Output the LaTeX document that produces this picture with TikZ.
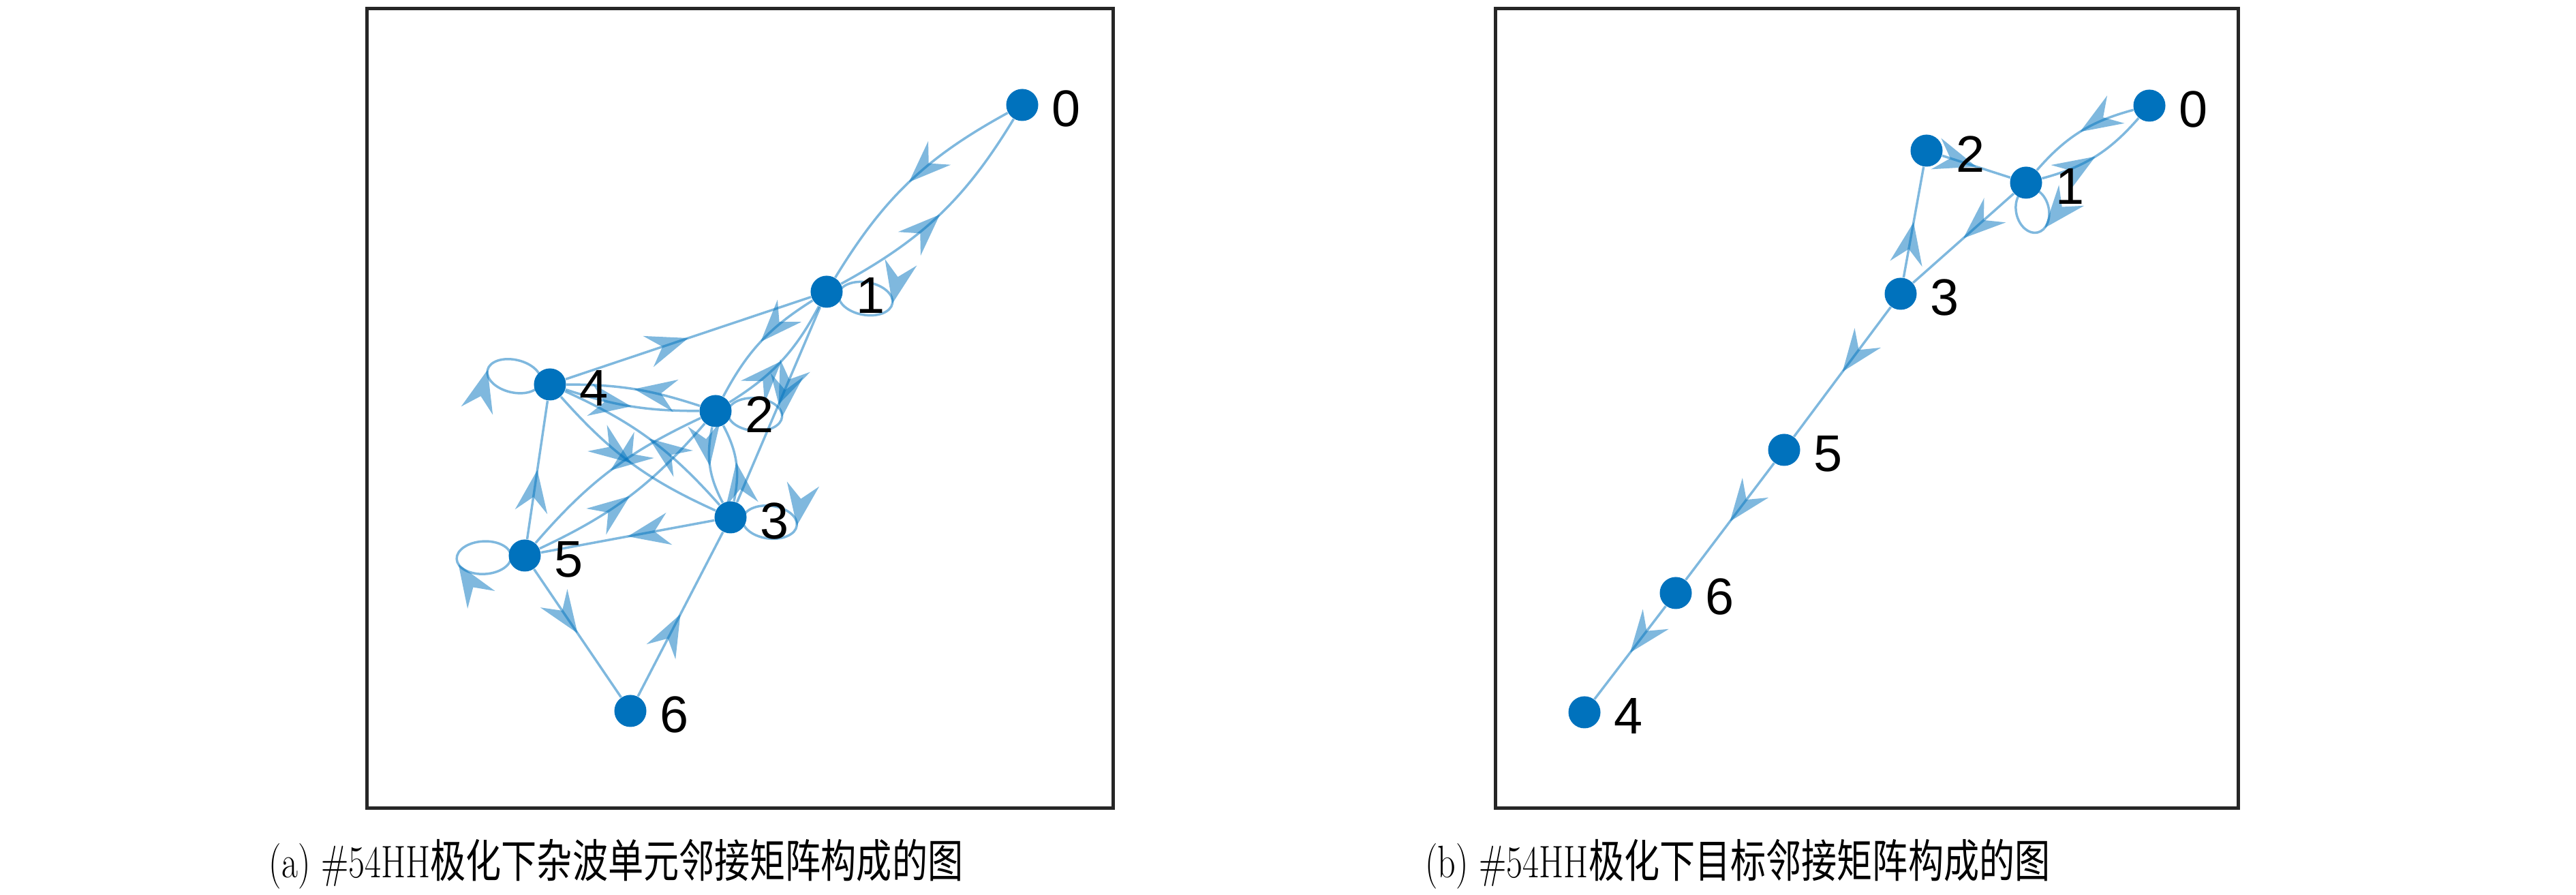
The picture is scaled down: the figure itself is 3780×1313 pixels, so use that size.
\documentclass[tikz,border=0pt]{standalone}
\usepackage{fontspec}
\newfontfamily\labelfont{Liberation Sans}
\newfontfamily\cjk{Noto Sans CJK SC}
\usetikzlibrary{decorations.markings,calc}
\definecolor{mpblue}{RGB}{0,114,189}
\definecolor{axgray}{RGB}{38,38,38}
\pgfdeclarelayer{bg}
\pgfsetlayers{bg,main}
\tikzset{
  vtx/.style={circle, fill=mpblue, inner sep=0pt, minimum size=0.47cm},
  lbl/.style={anchor=base west, font=\labelfont\fontsize{21.5}{21.5}\selectfont, inner sep=0pt},
  arrowmark/.style={postaction={decorate, decoration={markings,
      mark=at position #1 with {\fill[mpblue, fill opacity=0.5] (0,0) -- (-62,24) -- (-40,0) -- (-62,-24) -- cycle;}}}},
  gedge/.style={draw=mpblue, draw opacity=0.5, line width=0.035cm, arrowmark=0.5},
  gloop/.style={draw=mpblue, draw opacity=0.5, line width=0.035cm, arrowmark=#1},
  axbox/.style={draw=axgray, line width=0.05cm},
  capt/.style={font=\fontsize{19}{19}\selectfont, anchor=base, inner sep=0pt},
}
\begin{document}
\begin{tikzpicture}[x=0.01cm, y=0.01cm]
\useasboundingbox (0,0) rectangle (3780,1313);
% axes boxes
\draw[axbox] (538,127) rectangle (1633,1300);
\draw[axbox] (2194,127) rectangle (3284,1300);

% ---------- left graph ----------
\node[vtx] (l0) at (1500,1159) {};
\node[vtx] (l1) at (1213,885) {};
\node[vtx] (l2) at (1050,710) {};
\node[vtx] (l3) at (1072,554) {};
\node[vtx] (l4) at (807,749) {};
\node[vtx] (l5) at (770,498) {};
\node[vtx] (l6) at (925,270) {};
\foreach \n in {0,...,6} { \node[lbl] at ($(l\n)+(43,-32)$) {\n}; }

\begin{pgfonlayer}{bg}
\draw[gedge] (l0) to[bend right=15] (l1);
\draw[gedge] (l1) to[bend right=15] (l0);
\draw[gedge] (l1) to[bend right=15] (l2);
\draw[gedge] (l2) to[bend right=15] (l1);
\draw[gedge] (l2) to[bend right=9] (l4);
\draw[gedge] (l4) to[bend right=9] (l2);
\draw[gedge] (l4) to[bend right=12] (l3);
\draw[gedge] (l3) to[bend right=12] (l4);
\draw[gedge] (l2) to[bend right=20] (l3);
\draw[gedge] (l3) to[bend right=20] (l2);
\draw[gedge] (l2) to[bend right=12] (l5);
\draw[gedge] (l5) to[bend right=12] (l2);
\draw[gedge] (l4) -- (l1);
\draw[gedge] (l1) -- (l3);
\draw[gedge] (l3) -- (l5);
\draw[gedge] (l6) -- (l3);
\draw[gedge] (l5) -- (l6);
\draw[gedge] (l5) -- (l4);
\begin{scope}[shift={(l1)}, rotate=-10]
  \draw[gloop=0.002] (98,0) arc[start angle=0, end angle=-360, x radius=40, y radius=24];
\end{scope}
\begin{scope}[shift={(l2)}, rotate=-5]
  \draw[gloop=0.002] (98,0) arc[start angle=0, end angle=-360, x radius=40, y radius=24];
\end{scope}
\begin{scope}[shift={(l3)}, rotate=-7]
  \draw[gloop=0.002] (98,0) arc[start angle=0, end angle=-360, x radius=40, y radius=24];
\end{scope}
\begin{scope}[shift={(l4)}, rotate=167]
  \draw[gloop=0.002] (94,0) arc[start angle=0, end angle=-360, x radius=40, y radius=24];
\end{scope}
\begin{scope}[shift={(l5)}, rotate=183]
  \draw[gloop=0.96] (100,0) arc[start angle=0, end angle=-360, x radius=40, y radius=24];
\end{scope}
\end{pgfonlayer}

% ---------- right graph ----------
\node[vtx] (r0) at (3154,1158) {};
\node[vtx] (r1) at (2973,1045) {};
\node[vtx] (r2) at (2827,1092) {};
\node[vtx] (r3) at (2789,882) {};
\node[vtx] (r4) at (2325,268) {};
\node[vtx] (r5) at (2618,653) {};
\node[vtx] (r6) at (2459,443) {};
\foreach \n in {0,...,6} { \node[lbl] at ($(r\n)+(43,-32)$) {\n}; }

\begin{pgfonlayer}{bg}
\draw[gedge] (r0) to[bend right=17] (r1);
\draw[gedge] (r1) to[bend right=17] (r0);
\draw[gedge] (r2) -- (r1);
\draw[gedge] (r1) -- (r3);
\draw[gedge] (r3) -- (r2);
\draw[gedge] (r3) -- (r5);
\draw[gedge] (r5) -- (r6);
\draw[gedge] (r6) -- (r4);
\begin{scope}[shift={(r1)}, rotate=-77]
  \draw[gloop=0.93] (75,0) arc[start angle=0, end angle=-360, x radius=33, y radius=24];
\end{scope}
\end{pgfonlayer}

% ---------- captions ----------
\node[capt] (capa) at (904,25) {\scalebox{0.78}[1]{(a) \#54HH{\cjk 极化下杂波单元邻接矩阵构成的图}}};
\node[capt] (capb) at (2550,25) {\scalebox{0.78}[1]{(b) \#54HH{\cjk 极化下目标邻接矩阵构成的图}}};
\end{tikzpicture}
\end{document}
